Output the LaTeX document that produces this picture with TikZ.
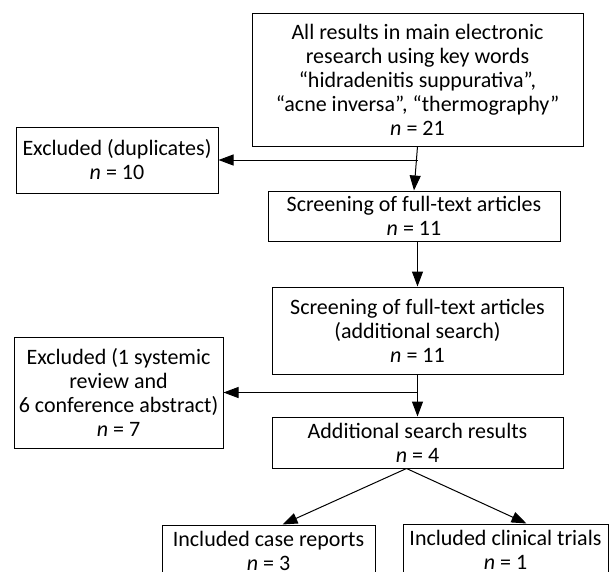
\documentclass[tikz,border=0pt]{standalone}
\usepackage{fontspec}
\setmainfont{Carlito}
\usetikzlibrary{arrows.meta}

\begin{document}
\begin{tikzpicture}[x=1pt, y=-1pt, line width=1pt,
  every node/.style = {shape=rectangle, draw, align=center,
    inner sep=0pt, font=\fontsize{22}{24}\selectfont},
  arr/.style = {-{Triangle[length=15pt, width=11pt]}}]
  \path[use as bounding box, fill=white] (0,0) rectangle (610,571);
  \clip (0,0) rectangle (610,571);
  \node[minimum width=331pt, minimum height=133pt] (all) at (417.5,79.5)
    {All results in main electronic\\ research using key words\\
     “hidradenitis suppurativa”,\\ “acne inversa”, “thermography”\\ \textit{n} = 21};
  \node[minimum width=202pt, minimum height=66pt] (dup) at (117,160)
    {Excluded (duplicates)\\ \textit{n} = 10};
  \node[minimum width=292pt, minimum height=50pt] (screen) at (414,216)
    {Screening of full-text articles\\ \textit{n} = 11};
  \node[minimum width=291pt, minimum height=87pt] (addscreen) at (417.5,330.5)
    {Screening of full-text articles\\ (additional search)\\ \textit{n} = 11};
  \node[minimum width=209pt, minimum height=111pt] (excl) at (118.5,392.5)
    {Excluded (1 systemic\\ review and\\ 6 conference abstract)\\ \textit{n} = 7};
  \node[minimum width=291pt, minimum height=51pt] (addres) at (417.5,442.5)
    {Additional search results\\ \textit{n} = 4};
  \node[minimum width=213pt, minimum height=51pt] (cases) at (268.5,550.5)
    {Included case reports\\ \textit{n} = 3};
  \node[minimum width=205pt, minimum height=51pt] (trials) at (505.5,549.5)
    {Included clinical trials\\ \textit{n} = 1};
  % connectors
  \draw[arr] (all.south) -- (screen.north);
  \draw[arr] (all.south |- dup.east) -- (dup.east);
  \draw[arr] (screen.south -| all.south) -- (addscreen.north);
  \draw[arr] (addscreen.south) -- (addres.north);
  \draw[arr] (addscreen.south |- excl.east) -- (excl.east);
  \draw[arr] ([xshift=-11pt]addres.south) -- ([xshift=14pt]cases.north);
  \draw[arr] ([xshift=-11pt]addres.south) -- ([xshift=21pt]trials.north);
\end{tikzpicture}
\end{document}
